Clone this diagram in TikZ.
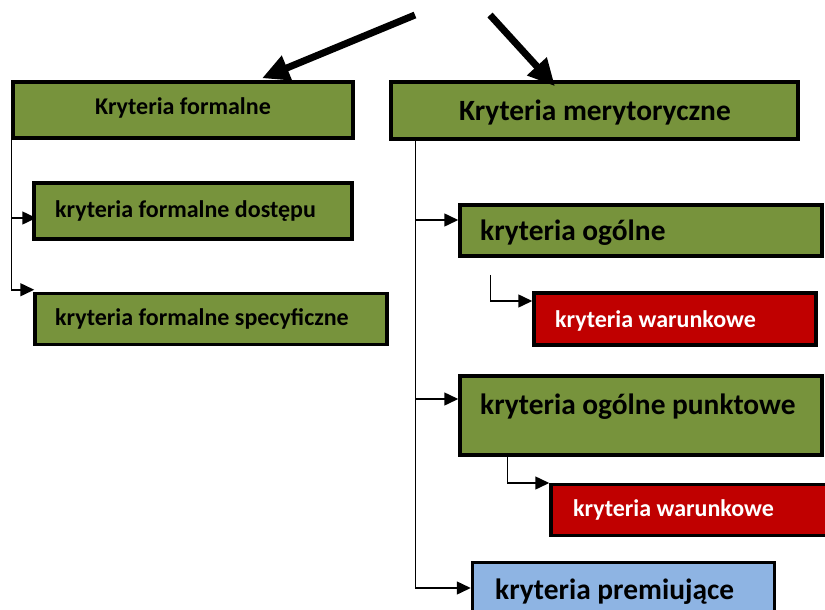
\documentclass[tikz,border=0pt]{standalone}
\usepackage{fontspec}
\setmainfont{Carlito}
\usetikzlibrary{arrows.meta,calc}
\definecolor{olive}{HTML}{77933C}
\definecolor{darkred}{HTML}{C00000}
\definecolor{lightblue}{HTML}{8EB4E3}
\tikzset{
  box/.style={draw=black,line width=3.5pt,inner sep=0pt,rectangle},
  gbox/.style={box,fill=olive},
  rbox/.style={box,fill=darkred},
  bbox/.style={box,fill=lightblue},
  small/.style={font=\fontsize{24}{28}\selectfont\bfseries,inner sep=0pt},
  large/.style={font=\fontsize{29.4}{34}\selectfont\bfseries,inner sep=0pt},
  conn/.style={line width=1.5pt,-{Triangle[length=14pt,width=13pt]}},
  bigarrow/.style={line width=7pt,-{Triangle[length=27pt,width=25pt]}}
}
\begin{document}
\begin{tikzpicture}[x=1pt,y=-1pt]
\useasboundingbox (0,0) rectangle (825,610);
\clip (0,0) rectangle (825,610);
% boxes
\node[gbox,minimum width=340pt,minimum height=56pt] (kf) at (183,110) {};
\node[gbox,minimum width=318pt,minimum height=56pt] (kfd) at (193,211) {};
\node[gbox,minimum width=352pt,minimum height=51pt] (kfs) at (211,319) {};
\node[gbox,minimum width=407pt,minimum height=57pt] (km) at (594.5,110.5) {};
\node[gbox,minimum width=362pt,minimum height=51pt] (ko) at (641,230.5) {};
\node[rbox,minimum width=282pt,minimum height=52pt] (kw1) at (675,319) {};
\node[gbox,minimum width=362pt,minimum height=79pt] (kop) at (641,415.5) {};
\node[rbox,minimum width=300pt,minimum height=51pt] (kw2) at (701,510) {};
\node[bbox,minimum width=302pt,minimum height=65pt] (kp) at (623.5,595) {};
% texts
\node[small] (t1) at (183,108) {Kryteria formalne};
\node[small,anchor=west] (t2) at (55,211) {kryteria formalne dostępu};
\node[small,anchor=west] (t3) at (55,319) {kryteria formalne specyficzne};
\node[large] (t4) at (595,112) {Kryteria merytoryczne};
\node[large,anchor=west] (t5) at (480,233) {kryteria ogólne};
\node[small,anchor=west,text=white] (t6) at (555,321) {kryteria warunkowe};
\node[large,anchor=west] (t7) at (480,407) {kryteria ogólne punktowe};
\node[small,anchor=west,text=white] (t8) at (573,510) {kryteria warunkowe};
\node[large,anchor=west] (t9) at (495,592) {kryteria premiujące};
% big arrows
\coordinate (s1) at (415,15);
\coordinate (s2) at (490,15);
\draw[bigarrow] (s1) -- ($(kf.north)+(79,-2)$);
\draw[bigarrow] (s2) -- ($(km.north)+(-39.5,6)$);
% left connectors
\draw[conn] ($(kf.south west)+(0,0)$) |- ($(kfd.west)+(4,7)$);
\draw[conn] ($(kf.south west)+(0,0)$) |- ($(kfs.north west)+(1,-2)$);
% right connectors
\draw[conn] ($(km.south west)+(26,0)$) |- ($(ko.west)+(0,-10.5)$);
\draw[conn] ($(km.south west)+(26,0)$) |- ($(kop.west)+(0,-16.5)$);
\draw[conn] ($(km.south west)+(26,0)$) |- ($(kp.west)+(0,-7)$);
\coordinate (s3) at ($(ko.south west)+(32,17)$);
\draw[conn] (s3) |- ($(kw1.west)+(0,-18)$);
\draw[conn] ($(kop.south west)+(49,0)$) |- ($(kw2.west)+(0,-27)$);
\end{tikzpicture}
\end{document}
